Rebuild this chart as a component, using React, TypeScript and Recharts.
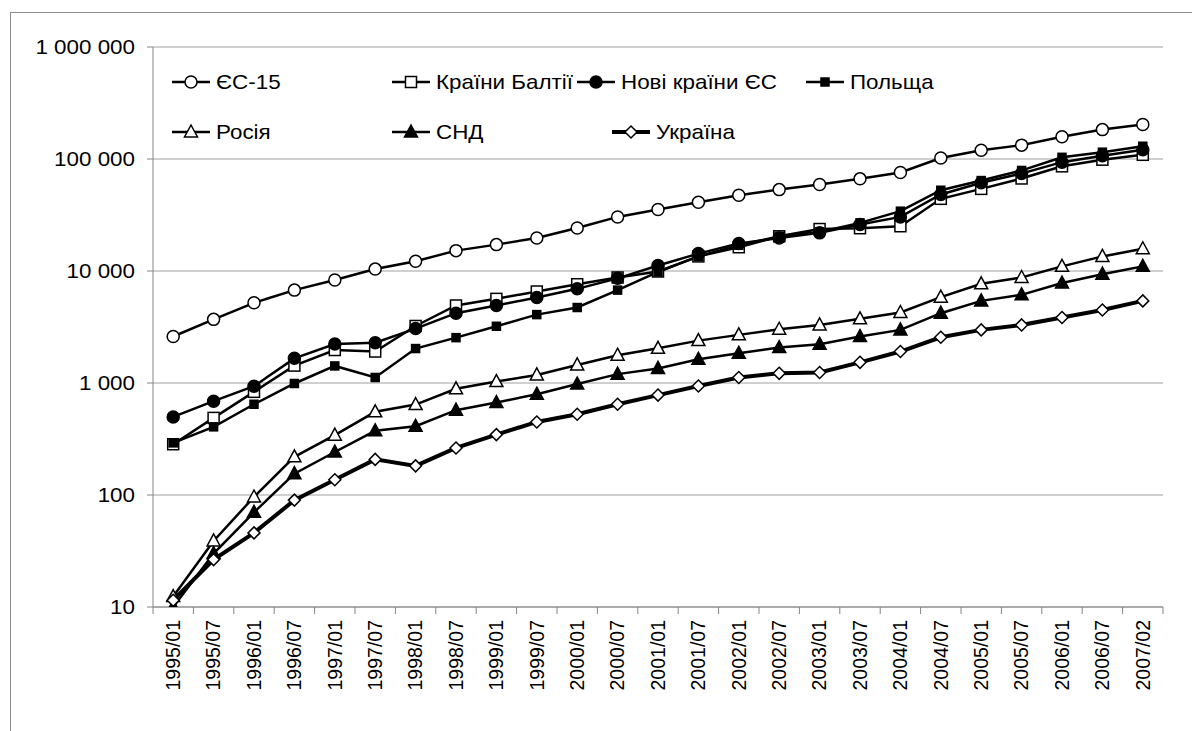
import { LineChart, Line, XAxis, YAxis, CartesianGrid, Legend } from "recharts";

const periods = [
  "1995/01", "1995/07", "1996/01", "1996/07", "1997/01", "1997/07", "1998/01",
  "1998/07", "1999/01", "1999/07", "2000/01", "2000/07", "2001/01", "2001/07",
  "2002/01", "2002/07", "2003/01", "2003/07", "2004/01", "2004/07", "2005/01",
  "2005/07", "2006/01", "2006/07", "2007/02",
];

const eu15 = [
  2600, 3700, 5200, 6750, 8300, 10400, 12200, 15200, 17200, 19700, 24200, 30400,
  35400, 41100, 47500, 53300, 59200, 66500, 75800, 102000, 119500, 133000, 158000,
  183000, 203000,
];
const baltic = [
  284, 488, 834, 1430, 1970, 1910, 3230, 4920, 5640, 6560, 7620, 8750, 9900,
  13500, 16300, 20400, 23700, 24100, 25100, 44100, 54100, 67000, 86000, 98600,
  109000,
];
const newEu = [
  498, 688, 936, 1660, 2230, 2290, 3060, 4200, 4920, 5800, 6930, 8600, 11200,
  14300, 17600, 19700, 21900, 26000, 30400, 48200, 61300, 74300, 93700, 107000,
  121000,
];
const poland = [
  292, 406, 646, 990, 1420, 1120, 2030, 2540, 3210, 4080, 4720, 6750, 9800, 13500,
  17000, 20400, 22300, 26900, 34200, 52600, 64200, 79000, 103500, 115000, 130000,
];
const russia = [
  12.4, 38.9, 96, 219, 342, 553, 642, 888, 1030, 1180, 1450, 1770, 2040, 2390,
  2690, 3020, 3300, 3740, 4260, 5840, 7690, 8750, 11000, 13500, 15800,
];
const cis = [
  10, 30, 70, 155, 242, 374, 411, 572, 669, 794, 980, 1200, 1350, 1630, 1840,
  2070, 2220, 2600, 2980, 4200, 5410, 6130, 7800, 9370, 11000,
];
const ukraine = [
  11.5, 26.5, 45.9, 90, 137, 208, 182, 263, 346, 449, 526, 646, 780, 940, 1120,
  1220, 1240, 1530, 1910, 2560, 2980, 3300, 3840, 4490, 5410,
];

const yTicks = [10, 100, 1000, 10000, 100000, 1000000];

const data = periods.map((period, i) => ({
  period,
  eu15: eu15[i],
  baltic: baltic[i],
  newEu: newEu[i],
  poland: poland[i],
  russia: russia[i],
  cis: cis[i],
  ukraine: ukraine[i],
}));

const FONT = "'Liberation Sans', Arial, sans-serif";
const STRETCH = 1.12;
const PLOT_W = 1010;
const HALF_BAND = PLOT_W / periods.length / 2;

type Shape = "circle" | "square" | "smallSquare" | "triangle" | "diamond";

function marker(shape: Shape, filled: boolean, cx: number, cy: number, key?: string) {
  const fill = filled ? "#000" : "#fff";
  const common = { key, fill, stroke: "#000", strokeWidth: 1.5 };
  switch (shape) {
    case "circle":
      return <circle {...common} cx={cx} cy={cy} r={6} />;
    case "square":
      return <rect {...common} x={cx - 5.5} y={cy - 5.5} width={11} height={11} />;
    case "smallSquare":
      return <rect {...common} x={cx - 4} y={cy - 4} width={8} height={8} />;
    case "triangle":
      return (
        <polygon
          {...common}
          points={`${cx},${cy - 7} ${cx + 6.5},${cy + 5} ${cx - 6.5},${cy + 5}`}
        />
      );
    case "diamond":
      return (
        <polygon
          {...common}
          points={`${cx},${cy - 6} ${cx + 6},${cy} ${cx},${cy + 6} ${cx - 6},${cy}`}
        />
      );
  }
}

const series = [
  { key: "eu15", name: "ЄС-15", shape: "circle" as Shape, filled: false, width: 2.5 },
  { key: "baltic", name: "Країни Балтії", shape: "square" as Shape, filled: false, width: 2.5 },
  { key: "newEu", name: "Нові країни ЄС", shape: "circle" as Shape, filled: true, width: 2.5 },
  { key: "poland", name: "Польща", shape: "smallSquare" as Shape, filled: true, width: 2.5 },
  { key: "russia", name: "Росія", shape: "triangle" as Shape, filled: false, width: 2.5 },
  { key: "cis", name: "СНД", shape: "triangle" as Shape, filled: true, width: 2.5 },
  { key: "ukraine", name: "Україна", shape: "diamond" as Shape, filled: false, width: 4 },
];

// legend slot positions relative to the legend wrapper
const legendSlots = [
  { x: 0, y: 20 },
  { x: 220, y: 20 },
  { x: 405, y: 20 },
  { x: 634, y: 20 },
  { x: 0, y: 70 },
  { x: 220, y: 70 },
  { x: 440, y: 70 },
];

const fmt = (v: number) => String(v).replace(/\B(?=(\d{3})+(?!\d))/g, " ");

function YTick(props: any) {
  const { x, y, payload } = props;
  return (
    <text
      transform={`translate(${x},${y}) scale(${STRETCH},1)`}
      textAnchor="end"
      dy="0.35em"
      fontFamily={FONT}
      fontSize={20}
      fill="#000"
    >
      {fmt(payload.value)}
    </text>
  );
}

function XTick(props: any) {
  const { x, y, payload, index } = props;
  const axisY = y - 6;
  const isLast = index === periods.length - 1;
  return (
    <g>
      <line x1={x - HALF_BAND} x2={x - HALF_BAND} y1={axisY} y2={axisY + 7} stroke="#868686" />
      {isLast && (
        <line x1={x + HALF_BAND} x2={x + HALF_BAND} y1={axisY} y2={axisY + 7} stroke="#868686" />
      )}
      <text
        transform={`translate(${x},${axisY + 13}) rotate(-90)`}
        textAnchor="end"
        dy="0.35em"
        fontFamily={FONT}
        fontSize={19.5}
        fill="#000"
      >
        {payload.value}
      </text>
    </g>
  );
}

function LegendContent() {
  return (
    <svg width={760} height={90} style={{ overflow: "visible" }}>
      {series.map((s, i) => {
        const p = legendSlots[i];
        return (
          <g key={s.key}>
            <line x1={p.x} x2={p.x + 38} y1={p.y} y2={p.y} stroke="#000" strokeWidth={s.width} />
            {marker(s.shape, s.filled, p.x + 19, p.y)}
            <text
              transform={`translate(${p.x + 44},${p.y}) scale(${STRETCH},1)`}
              dy="0.35em"
              fontFamily={FONT}
              fontSize={20}
              fill="#000"
            >
              {s.name}
            </text>
          </g>
        );
      })}
    </svg>
  );
}

export default function App() {
  return (
    <div
      style={{
        position: "fixed",
        left: 10,
        top: 12,
        width: 1200,
        height: 740,
        borderTop: "1px solid #8c8c8c",
        borderLeft: "1px solid #8c8c8c",
        background: "#fff",
      }}
    >
      <LineChart
        width={1180}
        height={718}
        data={data}
        margin={{ top: 34, right: 28, bottom: 14, left: 0 }}
      >
        <CartesianGrid vertical={false} stroke="#a0a0a0" strokeWidth={1} />
        <XAxis
          dataKey="period"
          scale="band"
          interval={0}
          height={110}
          tickLine={false}
          tickSize={6}
          tickMargin={0}
          axisLine={{ stroke: "#868686" }}
          tick={<XTick />}
        />
        <YAxis
          scale="log"
          domain={[10, 1000000]}
          ticks={yTicks}
          allowDataOverflow
          width={142}
          tickSize={6}
          tickMargin={12}
          axisLine={{ stroke: "#868686" }}
          tickLine={{ stroke: "#868686" }}
          tick={<YTick />}
        />
        <Legend
          layout="horizontal"
          verticalAlign="middle"
          align="center"
          wrapperStyle={{ top: 49, left: 161, width: 760, height: 90 }}
          content={() => <LegendContent />}
        />
        {series.map((s) => (
          <Line
            key={s.key}
            type="linear"
            dataKey={s.key}
            name={s.name}
            stroke="#000"
            strokeWidth={s.width}
            isAnimationActive={false}
            dot={(p: any) => marker(s.shape, s.filled, p.cx, p.cy, `${s.key}-${p.index}`)}
            activeDot={false}
          />
        ))}
      </LineChart>
    </div>
  );
}
